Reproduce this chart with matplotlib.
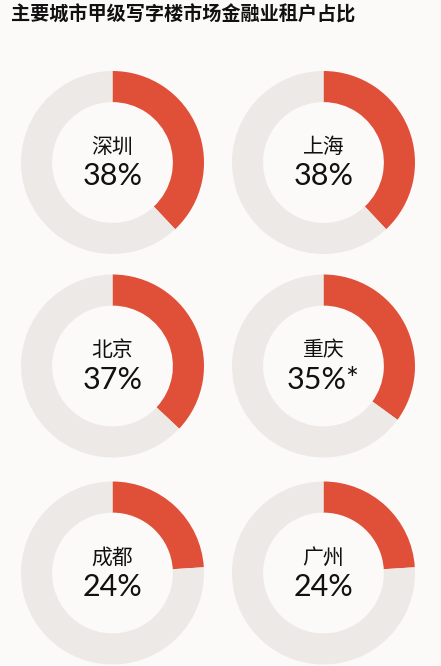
import matplotlib.pyplot as plt

plt.rcParams['font.family'] = ['Lato', 'Noto Sans CJK SC', 'DejaVu Sans']

# 数据
title = '主要城市甲级写字楼市场金融业租户占比'
cities = ['深圳', '上海', '北京', '重庆', '成都', '广州']
shares = [38, 38, 37, 35, 24, 24]
share_labels = ['38%', '38%', '37%', '35%*', '24%', '24%']

red = '#E04F37'
grey = '#EDE9E6'
bg = '#FCFAF9'

W, H = 441, 666
fig = plt.figure(figsize=(W / 100, H / 100), dpi=100, facecolor=bg)

fig.text(11 / W, 1 - 15 / H, title, fontsize=13.8, fontweight='bold',
         family=['Noto Sans CJK SC', 'DejaVu Sans'], va='center', ha='left', color='#111111')

# 环形图中心位置 (像素)
col_x = [112.5, 323.5]
row_y = [162.5, 366, 573]
r = 91.5

for i, (city, share, lab) in enumerate(zip(cities, shares, share_labels)):
    cx = col_x[i % 2]
    cy = row_y[i // 2]
    ax = fig.add_axes([(cx - r) / W, 1 - (cy + r) / H, 2 * r / W, 2 * r / H])
    ax.pie([share, 100 - share], colors=[red, grey], startangle=90, counterclock=False,
           radius=1, wedgeprops=dict(width=0.34, edgecolor='none'))
    ax.set_xlim(-1, 1)
    ax.set_ylim(-1, 1)
    ax.set_aspect('equal')
    ax.axis('off')
    ax.text(0, 0.17, city, ha='center', va='center', fontsize=15,
            family=['Noto Sans CJK SC', 'DejaVu Sans'], color='#111111')
    ax.text(0, -0.15, lab, ha='center', va='center', fontsize=22, color='#111111')

fig.savefig('out.png', dpi=100, facecolor=bg)
